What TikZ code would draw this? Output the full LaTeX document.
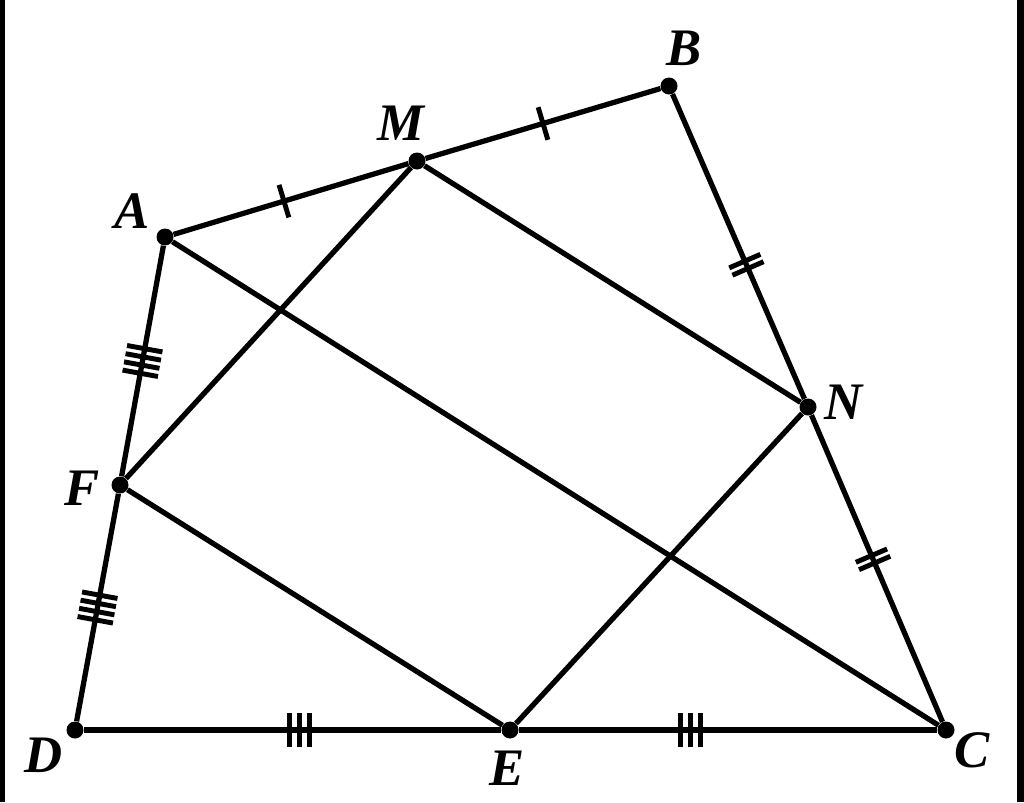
\documentclass[tikz,border=0pt]{standalone}
\usepackage{fontspec}
\setmainfont{Liberation Serif}
\usetikzlibrary{decorations.markings}

\tikzset{
  pt/.style={circle, fill=black, inner sep=0pt, minimum size=0.34cm},
  lbl/.style={font=\fontsize{30}{36}\selectfont\bfseries\itshape, inner sep=0pt},
  seg/.style={line width=3pt},
  tickone/.style={postaction={decorate}, decoration={markings,
    mark=at position #1 with {\draw[line width=2.8pt] (0cm,-0.34cm) -- (0cm,0.34cm);}}},
  ticktwo/.style={postaction={decorate}, decoration={markings,
    mark=at position #1 with {\foreach \t in {-0.08,0.08} \draw[line width=2.8pt] (\t cm,-0.34cm) -- (\t cm,0.34cm);}}},
  tickthree/.style={postaction={decorate}, decoration={markings,
    mark=at position #1 with {\foreach \t in {-0.2,0,0.2} \draw[line width=2.8pt] (\t cm,-0.34cm) -- (\t cm,0.34cm);}}},
  tickfour/.style={postaction={decorate}, decoration={markings,
    mark=at position #1 with {\foreach \t in {-0.25,-0.083,0.083,0.25} \draw[line width=2.8pt] (\t cm,-0.36cm) -- (\t cm,0.36cm);}}}
}

\begin{document}
\begin{tikzpicture}[x=0.02cm, y=-0.02cm]
  % frame
  \useasboundingbox (0,0) rectangle (1024,802);
  \fill[black] (0,0) rectangle (5,802);
  \fill[black] (1017,0) rectangle (1024,802);

  % points
  \node[pt] (A) at (165,237) {};
  \node[pt] (B) at (669,86) {};
  \node[pt] (C) at (946,730) {};
  \node[pt] (D) at (75,730) {};
  \node[pt] (E) at (510,730) {};
  \node[pt] (F) at (120,485) {};
  \node[pt] (M) at (417,161) {};
  \node[pt] (N) at (808,407) {};

  % sides of ABCD
  \draw[seg, tickone=0.47] (A) -- (M);
  \draw[seg, tickone=0.5] (M) -- (B);
  \draw[seg, ticktwo=0.56] (B) -- (N);
  \draw[seg, ticktwo=0.47] (N) -- (C);
  \draw[seg, tickthree=0.41] (E) -- (C);
  \draw[seg, tickthree=0.517] (D) -- (E);
  \draw[seg, tickfour=0.5] (F) -- (D);
  \draw[seg, tickfour=0.5] (A) -- (F);

  % diagonal and inner quadrilateral
  \draw[seg] (A) -- (C);
  \draw[seg] (M) -- (N) -- (E) -- (F) -- (M);

  % labels
  \node[lbl] (lA) at (132,211) {A};
  \node[lbl] (lB) at (684,48) {B};
  \node[lbl] (lC) at (972,750) {C};
  \node[lbl] (lD) at (44,755) {D};
  \node[lbl] (lE) at (507,768) {E};
  \node[lbl] (lF) at (82,488) {F};
  \node[lbl] (lM) at (401,123) {M};
  \node[lbl] (lN) at (844,402) {N};
\end{tikzpicture}
\end{document}
